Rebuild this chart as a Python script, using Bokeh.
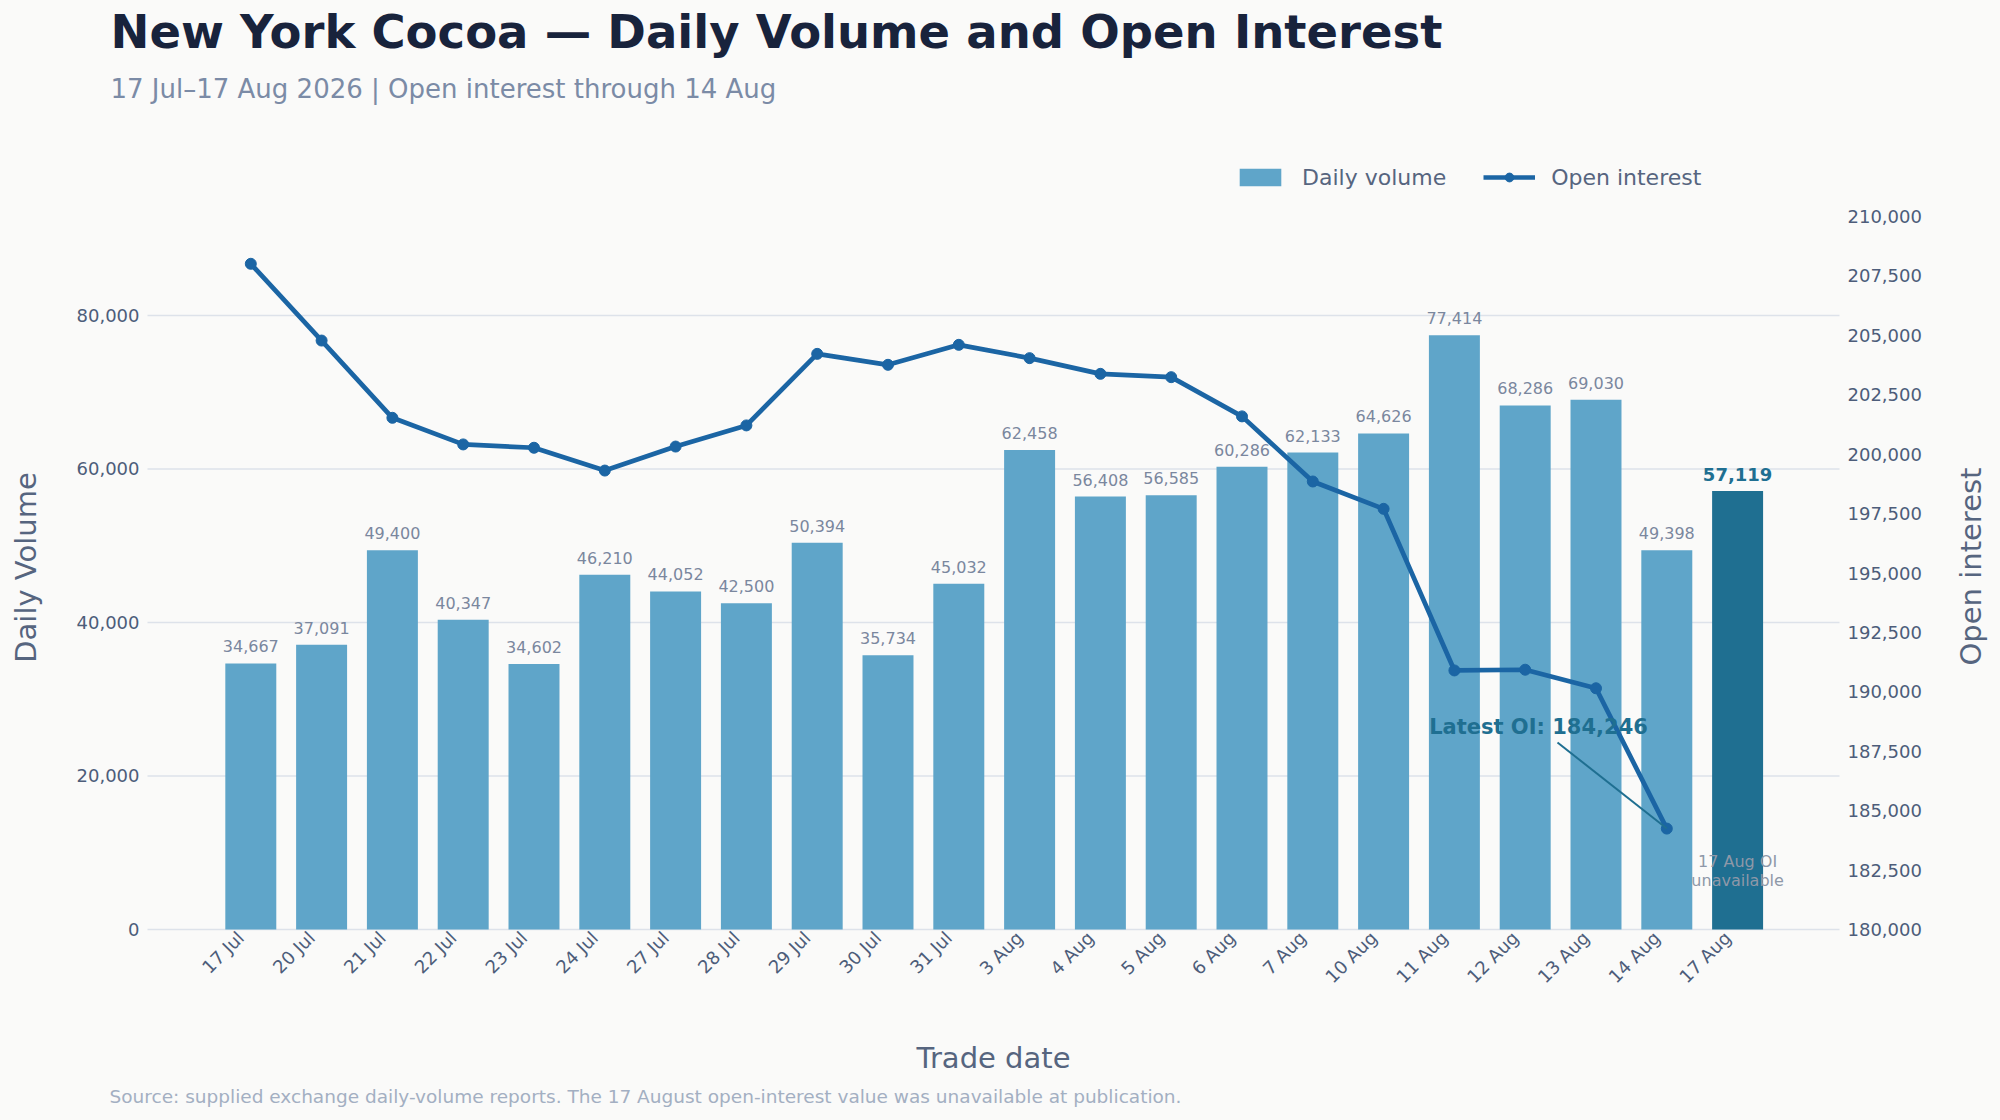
import math
from bokeh.plotting import figure
from bokeh.models import (ColumnDataSource, Range1d, LinearAxis, FixedTicker,
                          NumeralTickFormatter, Legend, LegendItem, Label, Arrow)
from bokeh.core.properties import value
from bokeh.embed import file_html
from bokeh.resources import INLINE

# ---------------- data ----------------
dates = ["17 Jul", "20 Jul", "21 Jul", "22 Jul", "23 Jul", "24 Jul", "27 Jul", "28 Jul",
         "29 Jul", "30 Jul", "31 Jul", "3 Aug", "4 Aug", "5 Aug", "6 Aug", "7 Aug",
         "10 Aug", "11 Aug", "12 Aug", "13 Aug", "14 Aug", "17 Aug"]
volume = [34667, 37091, 49400, 40347, 34602, 46210, 44052, 42500, 50394, 35734, 45032,
          62458, 56408, 56585, 60286, 62133, 64626, 77414, 68286, 69030, 49398, 57119]
# open interest is available through 14 Aug only
oi_dates = dates[:21]
open_interest = [208010, 204780, 201530, 200410, 200270, 199310, 200320, 201210, 204220,
                 203760, 204600, 204040, 203380, 203240, 201590, 198850, 197700, 190900,
                 190930, 190150, 184246]
volume_ticks = [0, 20000, 40000, 60000, 80000]
oi_ticks = list(range(180000, 210001, 2500))
oi_low, oi_high = 180000, 210000

# ---------------- style / layout ----------------
FONT = "DejaVu Sans"
BG = "#fafaf9"
TITLE_C = "#18233c"
SUB_C = "#7b8ba6"
AXIS_C = "#56657f"
TICK_C = "#4d5d7a"
GRID_C = "#dde2ea"
BAR_C = "#5fa5c9"
BAR_LAST_C = "#1f6f91"
LINE_C = "#1b65a4"
VAL_C = "#7a879e"
NOTE_C = "#8e98a8"
SRC_C = "#a3afc2"

W, H = 2000, 1120
# plot-area geometry in page pixels
AREA_L, AREA_R, AREA_T, AREA_B = 147, 1839, 216, 929
C0, DX = 250.3, 70.8      # x of first category centre, spacing between categories
LABEL_SHIFT = 10          # px: rotated date labels end slightly left of the bar centre

xs = list(range(len(dates)))
oi_xs = xs[:len(open_interest)]
v_top = max(volume) * 1.2
k_left = (AREA_B - AREA_T) / v_top              # px per volume unit
k_right = (AREA_B - AREA_T) / (oi_high - oi_low)  # px per OI unit
x_edge_l = (AREA_L - C0) / DX
x_edge_r = (AREA_R - C0) / DX


def sy(page_y):
    return H - page_y


p = figure(width=W, height=H,
           x_range=Range1d(-C0 / DX, (W - C0) / DX),
           y_range=Range1d(-(H - AREA_B) / k_left, AREA_B / k_left),
           output_backend="svg", toolbar_location=None, min_border=0,
           background_fill_color=BG, border_fill_color=BG, outline_line_color=None)
p.extra_y_ranges = {"oi": Range1d(oi_low - (H - AREA_B) / k_right,
                                  oi_low + AREA_B / k_right)}
p.xgrid.visible = False
p.ygrid.visible = False

# horizontal grid lines across the plot area only
p.segment(x0=[x_edge_l] * len(volume_ticks), x1=[x_edge_r] * len(volume_ticks),
          y0=volume_ticks, y1=volume_ticks, line_color=GRID_C, line_width=1.6)

# bars
bar_colors = [BAR_C] * (len(volume) - 1) + [BAR_LAST_C]
src = ColumnDataSource(dict(x=xs, volume=volume, color=bar_colors))
bars = p.vbar(x="x", top="volume", width=0.72, source=src,
              fill_color="color", line_color=None)

# bar value labels
p.text(x=xs[:-1], y=volume[:-1], text=[f"{v:,}" for v in volume[:-1]],
       text_align="center", text_baseline="alphabetic", y_offset=-17,
       text_font=value(FONT), text_font_size="16px", text_color=VAL_C)
p.text(x=xs[-1:], y=volume[-1:], text=[f"{v:,}" for v in volume[-1:]],
       text_align="center", text_baseline="alphabetic", y_offset=-17,
       text_font=value(FONT), text_font_size="18px", text_font_style="bold",
       text_color=BAR_LAST_C)

# open interest line
oi_line = p.line(x=oi_xs, y=open_interest, y_range_name="oi",
                 line_width=4.7, line_color=LINE_C)
oi_pts = p.scatter(x=oi_xs, y=open_interest, y_range_name="oi",
                   size=11, fill_color=LINE_C, line_color=LINE_C)

# axes
label_ticks = [round(i - LABEL_SHIFT / DX, 3) for i in xs]
xa = p.xaxis[0]
xa.fixed_location = 0
xa.ticker = FixedTicker(ticks=label_ticks)
xa.major_label_overrides = {t: d for t, d in zip(label_ticks, dates)}
xa.major_label_orientation = math.pi / 4
xa.major_label_standoff = 5

ya = p.yaxis[0]
ya.fixed_location = x_edge_l
ya.ticker = FixedTicker(ticks=volume_ticks)
ya.formatter = NumeralTickFormatter(format="0,0")
ya.major_label_standoff = 8

ra = LinearAxis(y_range_name="oi", ticker=FixedTicker(ticks=oi_ticks),
                formatter=NumeralTickFormatter(format="0,0"))
ra.fixed_location = x_edge_r
ra.major_label_standoff = 8
p.add_layout(ra, "right")

for ax in (xa, ya, ra):
    ax.axis_line_color = None
    ax.major_tick_line_color = None
    ax.minor_tick_line_color = None
    ax.major_tick_out = 0
    ax.major_tick_in = 0
    ax.minor_tick_out = 0
    ax.minor_tick_in = 0
    ax.major_label_text_font = FONT
    ax.major_label_text_font_size = "18px"
    ax.major_label_text_color = TICK_C


def add_text(x, y, text, size, color, style="normal", align="left", angle=0.0):
    # y is the vertical centre of the text, in page pixels from the top
    p.add_layout(Label(x=x, y=sy(y), x_units="screen", y_units="screen", text=text,
                       angle=angle, text_align=align, text_baseline="middle",
                       text_font=FONT, text_font_size=size, text_font_style=style,
                       text_color=color))


# axis titles
add_text(25, 567, "Daily Volume", "29px", AXIS_C, align="center", angle=math.pi / 2)
add_text(1970, 566, "Open interest", "29px", AXIS_C, align="center", angle=math.pi / 2)
add_text((AREA_L + AREA_R) / 2, 1057, "Trade date", "29px", AXIS_C, align="center")

# legend
legend = Legend(items=[LegendItem(label="Daily volume", renderers=[bars], index=0),
                       LegendItem(label="Open interest", renderers=[oi_line, oi_pts])],
                location=(1234, sy(190)), orientation="horizontal",
                glyph_width=52, glyph_height=22, label_height=26, label_standoff=16,
                spacing=37, padding=0, margin=0, border_line_color=None,
                background_fill_alpha=0, label_text_font=FONT,
                label_text_font_size="22px", label_text_color=AXIS_C)
p.add_layout(legend)

# titles and source
add_text(110, 31, "New York Cocoa \u2014 Daily Volume and Open Interest", "46.5px",
         TITLE_C, style="bold")
add_text(110, 88.5, "17 Jul\u201317 Aug 2026 | Open interest through 14 Aug", "26px", SUB_C)
add_text(109, 1096, "Source: supplied exchange daily-volume reports. The 17 August "
         "open-interest value was unavailable at publication.", "18.5px", SRC_C)

# latest OI annotation
p.add_layout(Arrow(x_start=1557, y_start=sy(742), x_end=oi_xs[-1], y_end=open_interest[-1],
                   start_units="screen", end_units="data", y_range_name="oi", end=None,
                   line_color=BAR_LAST_C, line_width=2))
add_text(1538, 726, f"Latest OI: {open_interest[-1]:,}", "21px", BAR_LAST_C,
         style="bold", align="center")
add_text(C0 + DX * xs[-1], 861, "17 Aug OI", "16px", NOTE_C, align="center")
add_text(C0 + DX * xs[-1], 880, "unavailable", "16px", NOTE_C, align="center")

html = file_html(p, INLINE, title="New York Cocoa")
html = html.replace("</head>", "<style>html,body{margin:0;padding:0;background:%s;"
                    "overflow:hidden;}</style></head>" % BG, 1)
open("out.html", "w").write(html)
